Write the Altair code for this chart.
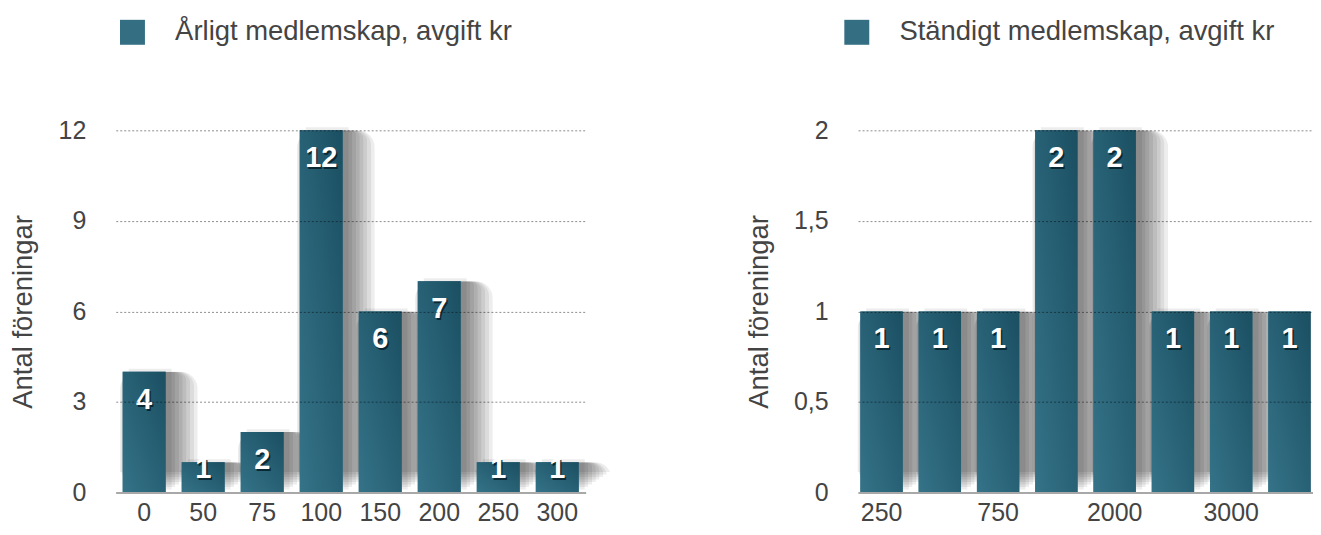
import altair as alt
import pandas as pd

FONT = "Liberation Sans"
TXT = "#444444"

annual_fees = ["0", "50", "75", "100", "150", "200", "250", "300"]
annual_counts = [4, 1, 2, 12, 6, 7, 1, 1]
annual_title = "Årligt medlemskap, avgift kr"
annual_ticks = [0, 3, 6, 9, 12]

life_fees = ["250", "500", "750", "1000", "2000", "2500", "3000", "5000"]
life_counts = [1, 1, 1, 2, 2, 1, 1, 1]
life_title = "Ständigt medlemskap, avgift kr"
life_ticks = [0, 0.5, 1, 1.5, 2]
life_shown = ["250", "750", "2000", "3000"]

y_title = "Antal föreningar"

GRAD = alt.LinearGradient(
    gradient="linear",
    stops=[alt.GradientStop(color="#357388", offset=0),
           alt.GradientStop(color="#1b4f62", offset=1)],
    x1=0, y1=1, x2=1, y2=0,
)


def panel(cats, counts, legend_text, ydom, yvals, xvals, legend_x, small_dy,
          width, pad_outer, shadow_cats):
    df = pd.DataFrame({"fee": cats, "n": counts, "serie": [legend_text] * len(cats)})
    X = alt.X("fee:N", sort=cats,
              scale=alt.Scale(domain=cats, paddingInner=0.273, paddingOuter=pad_outer),
              axis=alt.Axis(title=None, values=xvals, labelAngle=0, ticks=False,
                            domain=True, domainColor="#a8a8a8", domainWidth=2,
                            grid=False, labelFont=FONT, labelFontSize=25,
                            labelColor=TXT, labelPadding=8, zindex=1))
    Y = alt.Y("n:Q", scale=alt.Scale(domain=ydom, nice=False, zero=True),
              axis=alt.Axis(title=y_title, values=yvals,
                            labelExpr="replace(format(datum.value, '~g'), '.', ',')",
                            ticks=False, domain=False, grid=True, gridColor="#000000",
                            gridOpacity=0.45, gridDash=[2, 2], gridWidth=1,
                            labelFont=FONT, labelFontSize=25, labelColor=TXT,
                            labelPadding=30, titleFont=FONT, titleFontSize=27.5,
                            titleColor=TXT, titleFontWeight="normal",
                            titlePadding=20.5, zindex=1))
    base = alt.Chart(df)
    # soft drop shadow; the shadow of a bar at the panel's cut-off edge is left out
    shadow_base = base.transform_filter(
        alt.FieldOneOfPredicate(field="fee", oneOf=shadow_cats))
    layers = []
    for k in range(8):
        e = 2.5 * k
        layers.append(shadow_base.mark_bar(color="#000000", opacity=0.07,
                                           width=43 + 2 * e, xOffset=6 + 0.5 * e,
                                           yOffset=-(3 + e), cornerRadius=e)
                      .encode(x=X, y=Y))
    layers.append(base.mark_bar().encode(
        x=X, y=Y,
        color=alt.Color("serie:N", scale=alt.Scale(range=["#336e82"]),
                        legend=alt.Legend(title=None, orient="none", legendX=legend_x,
                                          legendY=-112, symbolType="square",
                                          symbolSize=625, symbolStrokeWidth=0,
                                          labelFont=FONT, labelFontSize=27.5,
                                          labelColor=TXT, labelOffset=29, padding=0,
                                          labelLimit=0))))
    layers.append(base.mark_bar(color=GRAD).encode(x=X, y=Y))
    for cond, dy in (("datum.n >= 2", 28), ("datum.n < 2", small_dy)):
        sub = base.transform_filter(cond)
        layers.append(sub.mark_text(font=FONT, fontSize=29, fontWeight="bold",
                                    color="#041c26", opacity=0.8, baseline="middle",
                                    dx=1.5, dy=dy + 2)
                      .encode(x=X, y=Y, text="n:Q"))
        layers.append(sub.mark_text(font=FONT, fontSize=29, fontWeight="bold",
                                    color="#ffffff", baseline="middle", dy=dy)
                      .encode(x=X, y=Y, text="n:Q"))
    return alt.layer(*layers).properties(width=width, height=363)


left = panel(annual_fees, annual_counts, annual_title, [0, 12], annual_ticks,
             annual_fees, 3, 7, 471, 0.118, annual_fees)
right = panel(life_fees, life_counts, life_title, [0, 2], life_ticks,
              life_shown, -15, 28, 456, 0.04, life_fees[:-1])

chart = (alt.hconcat(left, right, spacing=133)
         .resolve_scale(color="independent", x="independent", y="independent")
         .resolve_legend(color="independent")
         .configure(font=FONT)
         .configure_view(stroke=None)
         .properties(padding={"left": 1, "top": 10, "right": 0, "bottom": 0}))

chart.save("out.html", embed_options={"renderer": "svg", "actions": False})
